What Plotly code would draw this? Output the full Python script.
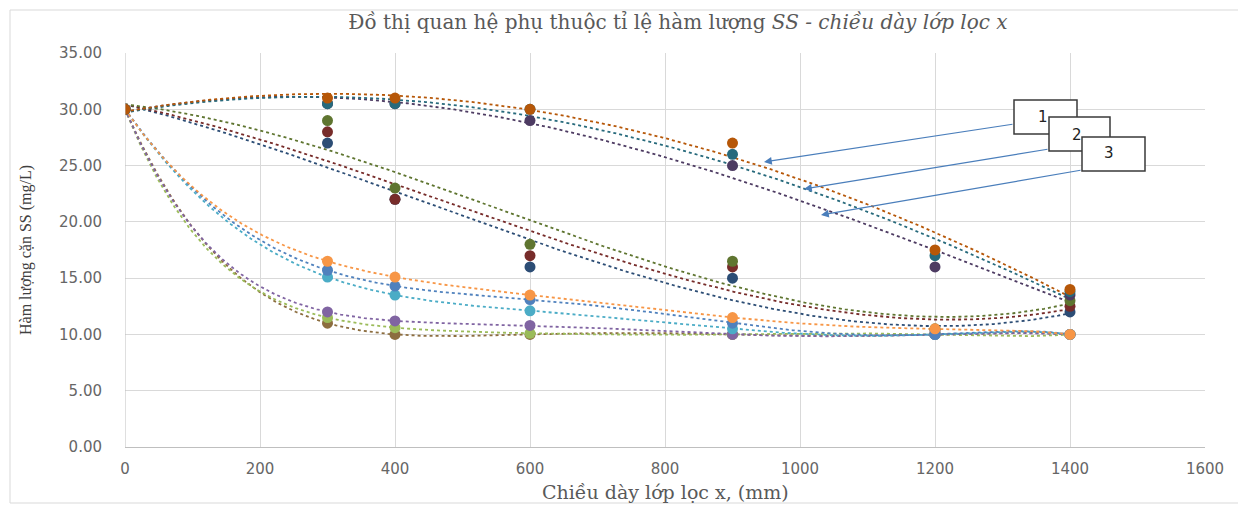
import numpy as np
import plotly.graph_objects as go

# ---------------- data ----------------
x_mm = [0, 300, 400, 600, 900, 1200, 1400]

# upper group (curves 1, 2, 3)
top_orange = [30, 31.0, 31.0, 30.0, 27.0, 17.5, 14.0]
top_teal = [30, 30.5, 30.5, 30.0, 26.0, 17.0, 13.8]
top_purple = [30, 30.5, 30.5, 29.0, 25.0, 16.0, 13.5]

# middle group
mid_green = [30, 29.0, 23.0, 18.0, 16.5, 10.5, 13.0]
mid_red = [30, 28.0, 22.0, 17.0, 16.0, 10.3, 12.5]
mid_blue = [30, 27.0, 22.0, 16.0, 15.0, 10.0, 12.0]

# lower group
low_orange = [30, 16.5, 15.1, 13.5, 11.5, 10.5, 10.0]
low_blue = [30, 15.7, 14.3, 13.1, 11.0, 10.0, 10.0]
low_aqua = [30, 15.1, 13.5, 12.1, 10.5, 10.0, 10.0]

# lowest group
min_purple = [30, 12.0, 11.2, 10.8, 10.0, 10.0, 10.0]
min_green = [30, 11.5, 10.6, 10.1, 10.0, 10.0, 10.0]
min_brown = [30, 11.0, 10.0, 10.0, 10.0, 10.0, 10.0]

title_main = "Đồ thị quan hệ phụ thuộc tỉ lệ hàm lượng "
title_italic = "SS - chiều dày lớp lọc x"
x_title = "Chiều dày lớp lọc x, (mm)"
y_title = "Hàm lượng cặn SS (mg/L)"
box_labels = ["1", "2", "3"]

# ---------------- styling ----------------
series = [
    (mid_blue, "#2C4D75", 3),
    (mid_red, "#772C2A", 3),
    (mid_green, "#5F7530", 3),
    (min_brown, "#8C6D3F", 6),
    (min_green, "#9BBB59", 6),
    (min_purple, "#8064A2", 6),
    (low_aqua, "#4BACC6", 6),
    (low_blue, "#4F81BD", 6),
    (low_orange, "#F79646", 6),
    (top_purple, "#4D3B62", 3),
    (top_teal, "#276A7C", 3),
    (top_orange, "#B65708", 3),
]

fig = go.Figure()
xs_dense = np.linspace(0, 1400, 400)
for ys, col, order in series:
    px = np.array([x for x, y in zip(x_mm, ys) if y is not None], float)
    py = np.array([y for y in ys if y is not None], float)
    order = min(order, len(px) - 1)
    coef = np.polyfit(px, py, order)
    fig.add_trace(go.Scatter(x=xs_dense, y=np.polyval(coef, xs_dense), mode="lines",
                             line=dict(color=col, width=1.8, dash="dot"),
                             hoverinfo="skip", showlegend=False))
for ys, col, order in series:
    fig.add_trace(go.Scatter(x=x_mm, y=ys, mode="markers",
                             marker=dict(color=col, size=11), showlegend=False))

# ---------------- geometry (figure pixels; page has 8px body margin) ----------------
W, H = 1238, 497
L, R, T, B = 117, 41, 45, 58
PW, PH = W - L - R, H - T - B


def px2x(p):
    return (p - 8 - L) / PW * 1600


def px2y(p):
    return (H - B - (p - 8)) / PH * 35


# boxes 1,2,3 with arrows (page pixel estimates)
boxes = [(1014, 100, 1077, 134), (1049, 117, 1110, 151), (1082, 137, 1145, 171)]
label_pos = [(1043, 117), (1077, 135), (1109, 153)]
arrows = [((1014, 124), (764, 162)), ((1049, 149), (804, 189)), ((1082, 170), (821, 215))]

for (tail, head) in arrows:
    fig.add_annotation(x=px2x(head[0]), y=px2y(head[1]), ax=px2x(tail[0]), ay=px2y(tail[1]),
                       axref="x", ayref="y", xref="x", yref="y", text="",
                       showarrow=True, arrowhead=2, arrowsize=1.3, arrowwidth=1.2,
                       arrowcolor="#4A7EBB")
for (x0, y0, x1, y1), lab, (tx, ty) in zip(boxes, box_labels, label_pos):
    fig.add_shape(type="rect", xref="x", yref="y",
                  x0=px2x(x0), x1=px2x(x1), y0=px2y(y0), y1=px2y(y1),
                  line=dict(color="#3A3A3A", width=1.5), fillcolor="white", layer="above")
    fig.add_annotation(x=px2x(tx), y=px2y(ty), xref="x", yref="y", text=lab,
                       showarrow=False, font=dict(family="DejaVu Sans", size=15, color="#222222"))

# axis titles
fig.add_annotation(xref="paper", yref="paper", x=0.5, y=(H - B - 484) / PH, text=x_title,
                   showarrow=False, xanchor="center", yanchor="middle",
                   font=dict(family="DejaVu Serif", size=19, color="#595959"))
fig.add_annotation(xref="paper", yref="paper", x=(18 - L) / PW, y=0.5, text=y_title,
                   textangle=-90, showarrow=False, xanchor="center", yanchor="middle",
                   font=dict(family="Liberation Serif", size=16, color="#404040"))

# outer chart border
fig.add_shape(type="rect", xref="paper", yref="paper",
              x0=(2 - L) / PW, x1=(W - 6 - L) / PW,
              y0=(H - B - (H - 2)) / PH, y1=(H - B - 2) / PH,
              line=dict(color="#D9D9D9", width=1))

fig.update_layout(
    width=W, height=H,
    margin=dict(l=L, r=R, t=T, b=B),
    paper_bgcolor="white", plot_bgcolor="white",
    title=dict(text=title_main + "<i>" + title_italic + "</i>", x=670 / W, xanchor="center",
               xref="container", y=1 - 14 / H, yanchor="middle",
               font=dict(family="DejaVu Serif", size=20, color="#595959")),
    showlegend=False,
)
fig.update_xaxes(range=[0, 1600], dtick=200, tick0=0, showgrid=True, gridcolor="#D9D9D9",
                 showline=True, linecolor="#BFBFBF", zeroline=False, ticks="",
                 automargin=False, ticklabelstandoff=8,
                 tickfont=dict(family="DejaVu Sans", size=15, color="#666666"))
fig.update_yaxes(range=[0, 35], dtick=5, tick0=0, tickformat=".2f", showgrid=True,
                 gridcolor="#D9D9D9", showline=False, zeroline=False, ticks="",
                 automargin=False, ticklabelstandoff=22,
                 tickfont=dict(family="DejaVu Sans", size=15, color="#666666"))
# left axis line at x = 0
fig.add_shape(type="line", xref="x", yref="paper", x0=0, x1=0, y0=0, y1=1,
              line=dict(color="#BFBFBF", width=1))

fig.write_html("out.html")
